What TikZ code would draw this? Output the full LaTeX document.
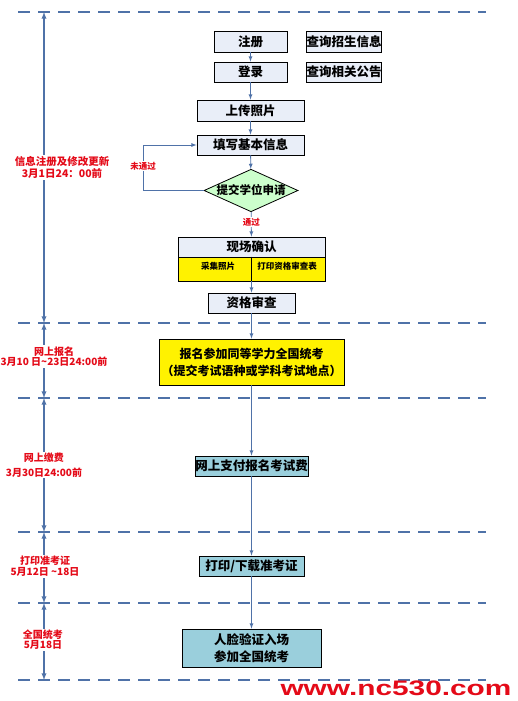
\documentclass[tikz,border=0pt]{standalone}
\usepackage{fontspec}
\setmainfont{Noto Sans CJK SC}
\usetikzlibrary{shapes.geometric, positioning}
\definecolor{lineblue}{RGB}{79,114,168}
\definecolor{boxgray}{RGB}{233,238,248}
\definecolor{boxgreen}{RGB}{204,255,204}
\definecolor{boxblue}{RGB}{154,207,220}
\definecolor{markred}{RGB}{228,10,24}

\begin{document}
\begin{tikzpicture}[x=1pt, y=-1pt, >=latex,
    box/.style={draw=black, fill=boxgray, inner sep=0pt, line width=0.8pt,
        font=\bfseries\fontsize{12.5}{14}\selectfont},
    bluebox/.style={box, fill=boxblue},
    flow/.style={->, draw=lineblue, line width=0.8pt},
    sepline/.style={draw=lineblue, line width=2.6pt, dash pattern=on 12pt off 8pt},
    timeline/.style={<->, draw=lineblue, line width=1.3pt},
    redlabel/.style={fill=white, inner sep=1pt, align=center, text=markred,
        font=\bfseries\fontsize{10}{11.5}\selectfont}]
    \useasboundingbox (0,0) rectangle (518,701);

    % Phân cách các giai đoạn
    \draw[sepline] (18,12) -- (486,12);
    \draw[sepline] (18,323) -- (486,323);
    \draw[sepline] (18,398) -- (486,398);
    \draw[sepline, line width=2pt] (18,532) -- (486,532);
    \draw[sepline, line width=2pt] (18,603) -- (486,603);
    \draw[sepline, line width=2pt] (18,680) -- (486,680);

    % Trục thời gian bên trái
    \coordinate (t0) at (44,12);
    \coordinate (t1) at (44,323);
    \coordinate (t2) at (44,398);
    \coordinate (t3) at (44,532);
    \coordinate (t4) at (44,603);
    \coordinate (t5) at (44,680);
    \draw[timeline] (t0) -- node[redlabel, xshift=18pt, font=\bfseries\fontsize{10.5}{12.5}\selectfont] (lab1) {信息注册及修改更新\\3月1日24：00前} (t1);
    \draw[timeline] (t1) -- node[redlabel, xshift=10pt, yshift=4pt, font=\bfseries\fontsize{10}{9}\selectfont] (lab2) {网上报名\\3月10 日\textasciitilde23日24:00前} (t2);
    \draw[timeline] (t2) -- node[redlabel, font=\bfseries\fontsize{10}{15}\selectfont] (lab3) {网上缴费\\3月30日24:00前} (t3);
    \draw[timeline] (t3) -- node[redlabel, xshift=1pt, yshift=1.5pt] (lab4) {打印准考证\\5月12日 \textasciitilde18日} (t4);
    \draw[timeline] (t4) -- node[redlabel, xshift=-1pt, yshift=1.5pt, font=\bfseries\fontsize{10}{9}\selectfont] (lab5) {全国统考\\5月18日} (t5);

    % Các bước đăng ký
    \node[box, minimum width=73, minimum height=21] (reg) at (250.5,41.5) {注册};
    \node[box, minimum width=74, minimum height=21] (query1) at (344,41.5) {查询招生信息};
    \node[box, minimum width=73, minimum height=20] (login) at (250.5,72) {登录};
    \node[box, minimum width=74, minimum height=20] (query2) at (344,72) {查询相关公告};
    \node[box, minimum width=107, minimum height=21] (photo) at (250.5,110.5) {上传照片};
    \node[box, minimum width=107, minimum height=20] (info) at (250.5,145) {填写基本信息};
    \node[box, diamond, fill=boxgreen, aspect=2.2, minimum width=94, minimum height=41,
        font=\bfseries\fontsize{11.5}{14}\selectfont] (apply) at (251,190.5) {提交学位申请};

    % Xác nhận tại chỗ
    \node[box, minimum width=147, minimum height=20] (confirm) at (251.5,247) {现场确认};
    \node[box, fill=yellow, minimum width=147, minimum height=24] (onsite) at (251.5,269) {};
    \draw[line width=0.8pt] (onsite.north) -- (onsite.south);
    \node[font=\bfseries\fontsize{8.5}{10}\selectfont] (capture) at (218,266) {采集照片};
    \node[font=\bfseries\fontsize{8.5}{10}\selectfont] (printform) at (287,266) {打印资格审查表};
    \node[box, minimum width=87, minimum height=20] (review) at (251.5,303) {资格审查};

    % Đăng ký thi và các bước sau
    \node[box, fill=yellow, minimum width=185, minimum height=46, align=center,
        font=\bfseries\fontsize{12}{17}\selectfont] (signup) at (251.5,362)
        {报名参加同等学力全国统考\\（提交考试语种或学科考试地点）};
    \node[bluebox, minimum width=113, minimum height=20] (pay) at (251.5,466) {网上支付报名考试费};
    \node[bluebox, minimum width=105, minimum height=20] (ticket) at (251.5,566) {打印/下载准考证};
    \node[bluebox, minimum width=139, minimum height=38, align=center,
        font=\bfseries\fontsize{12.5}{17}\selectfont] (exam) at (251.5,648) {人脸验证入场\\参加全国统考};

    % Mũi tên nối
    \draw[flow] (reg) -- (login);
    \draw[flow] (login) -- (photo);
    \draw[flow] (photo) -- (info);
    \draw[flow] (info) -- (apply);
    \draw[flow] (apply) -- node[redlabel, pos=0.4, font=\bfseries\fontsize{8.5}{10}\selectfont] (pass) {通过} (confirm);
    \draw[flow] (apply.west) -- ++(-60,0) |- (info.west);
    \node[redlabel, font=\bfseries\fontsize{8.5}{10}\selectfont] (fail) at (143,166) {未通过};
    \draw[flow] (onsite) -- (review);
    \draw[flow] (review) -- (signup);
    \draw[flow] (signup) -- (pay);
    \draw[flow] (pay) -- (ticket);
    \draw[flow] (ticket) -- (exam);

    % Watermark
    \node[text=markred, inner sep=0pt] (site) at (396,688)
        {\fontspec{Liberation Sans}\bfseries\fontsize{21}{21}\selectfont\scalebox{1.42}[1]{www.nc530.com}};
\end{tikzpicture}
\end{document}
